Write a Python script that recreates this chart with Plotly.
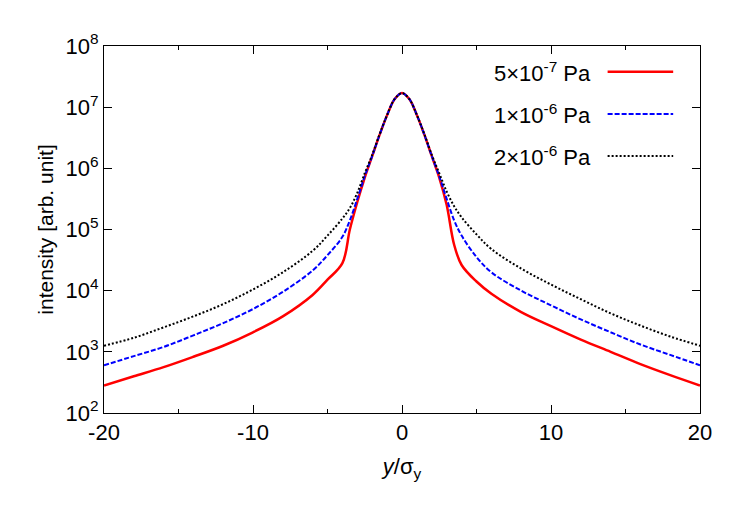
import numpy as np
from plotly import graph_objs as go

# positions y/sigma_y
x = [-20, -18, -16, -14, -12, -10, -8, -6, -5, -4, -3.5, -3, -2.5, -2, -1.5, -1, -0.5, 0,
     0.5, 1, 1.5, 2, 2.5, 3, 3.5, 4, 5, 6, 8, 10, 12, 14, 16, 18, 20]

# log10 of intensity
red_log = [2.45, 2.6, 2.75, 2.92, 3.1, 3.32, 3.58, 3.93, 4.18, 4.45, 5.0, 5.45, 5.85, 6.2, 6.55, 6.87, 7.13, 7.23,
           7.13, 6.87, 6.55, 6.2, 5.85, 5.4, 4.75, 4.42, 4.15, 3.95, 3.65, 3.42, 3.2, 3.0, 2.8, 2.62, 2.45]
blue_log = [2.78, 2.93, 3.08, 3.27, 3.47, 3.7, 3.98, 4.33, 4.58, 4.88, 5.15, 5.5, 5.87, 6.2, 6.55, 6.87, 7.13, 7.23,
            7.13, 6.87, 6.55, 6.2, 5.87, 5.5, 5.15, 4.9, 4.55, 4.3, 4.0, 3.76, 3.53, 3.32, 3.12, 2.95, 2.78]
black_log = [3.1, 3.23, 3.4, 3.58, 3.78, 4.02, 4.3, 4.65, 4.9, 5.18, 5.35, 5.6, 5.92, 6.22, 6.56, 6.87, 7.13, 7.23,
             7.13, 6.87, 6.56, 6.22, 5.92, 5.62, 5.38, 5.2, 4.92, 4.68, 4.36, 4.1, 3.86, 3.63, 3.43, 3.25, 3.1]

labels = ["5×10<sup>-7</sup> Pa", "1×10<sup>-6</sup> Pa", "2×10<sup>-6</sup> Pa"]
colors = ["#ff0000", "#0000ff", "#000000"]
dashes = ["solid", "5px,2px", "2px,2px"]
x_ticks = [-20, -10, 0, 10, 20]
tick_vals = [1e2, 1e3, 1e4, 1e5, 1e6, 1e7, 1e8]
tick_text = ["10<sup>%d</sup>" % k for k in range(2, 9)]

fig = go.Figure()
for logs, c, d, n in zip([red_log, blue_log, black_log], colors, dashes, labels):
    fig.add_trace(go.Scatter(x=x, y=10 ** np.array(logs), mode="lines", name=n,
                             line=dict(color=c, width=2.5 if d == "solid" else 2, dash=d, shape="spline")))

# legend: text left, line sample right (gnuplot style)
for i, (n, c, d) in enumerate(zip(labels, colors, dashes)):
    yy = 0.93 - i * 0.115
    fig.add_annotation(x=0.82, y=yy, xref="paper", yref="paper", text=n, showarrow=False,
                       xanchor="right", yanchor="middle", font=dict(size=22, color="black"))
    fig.add_shape(type="line", xref="paper", yref="paper", x0=0.845, x1=0.955, y0=yy, y1=yy,
                  line=dict(color=c, width=2.5 if d == "solid" else 2, dash=d))

axis_style = dict(showline=True, linecolor="black", linewidth=1, mirror="ticks", ticks="inside",
                  ticklen=8, tickcolor="black", showgrid=False, zeroline=False,
                  tickfont=dict(size=22, color="black"))
fig.update_layout(
    width=747, height=523, plot_bgcolor="white", paper_bgcolor="white",
    margin=dict(l=96, r=55, t=38, b=118), showlegend=False,
    font=dict(family="Liberation Sans, Arial, sans-serif", color="black"),
    xaxis=dict(range=[-20, 20], tickvals=x_ticks, ticktext=[str(v) for v in x_ticks],
               minor=dict(tickvals=[-15, -5, 5, 15], ticks="inside", ticklen=4, tickcolor="black"),
               title=dict(text="<i>y</i>/σ<sub>y</sub>", font=dict(size=22), standoff=14), **axis_style),
    yaxis=dict(type="log", range=[2, 8], tickvals=tick_vals, ticktext=tick_text,
               title=dict(text="intensity [arb. unit]", font=dict(size=21), standoff=6), **axis_style),
)
fig.write_html("out.html")
